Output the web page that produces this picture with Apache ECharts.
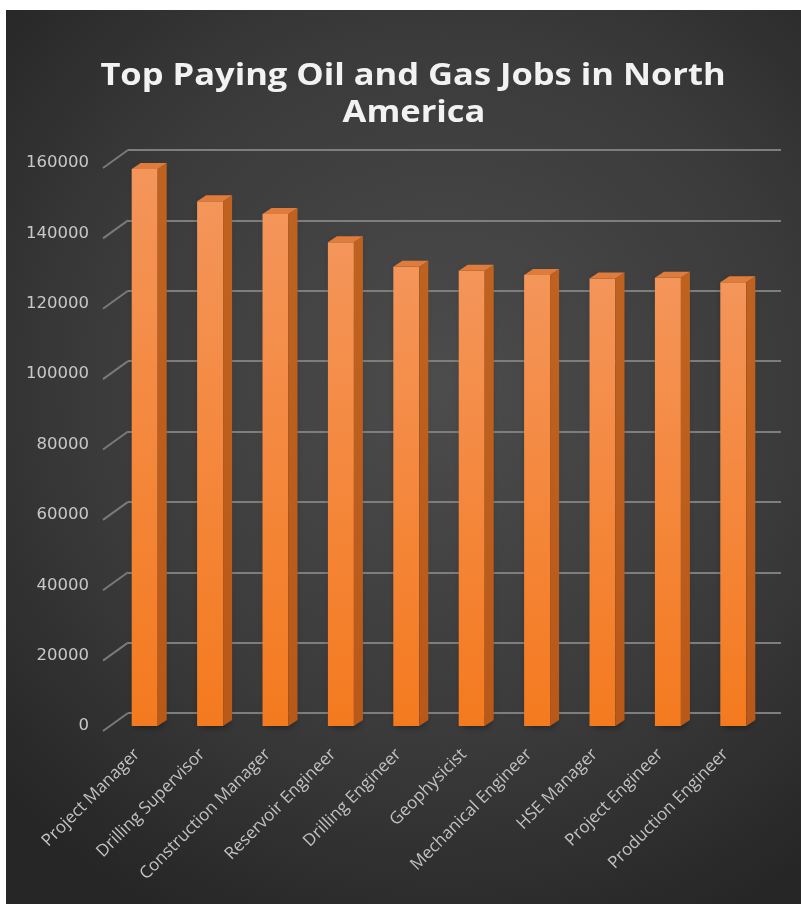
<!DOCTYPE html>
<html>
<head>
<meta charset="utf-8">
<script src="https://cdn.jsdelivr.net/npm/echarts@6/dist/echarts.min.js"></script>
<style>
html,body{margin:0;padding:0;background:#ffffff;}
#chart{width:801px;height:904px;}
</style>
</head>
<body>
<div id="chart"></div>
<script>
const categories = ['Project Manager','Drilling Supervisor','Construction Manager','Reservoir Engineer','Drilling Engineer','Geophysicist','Mechanical Engineer','HSE Manager','Project Engineer','Production Engineer'];
const salaries = [158300,149100,145500,137500,130500,129400,128200,127200,127400,126100];
const yTicks = [0,20000,40000,60000,80000,100000,120000,140000,160000];
const titleLines = ['Top Paying Oil and Gas Jobs in North','America'];

const chart = echarts.init(document.getElementById('chart'), null, {renderer:'canvas'});

function renderBar(params, api){
  const v = api.value(1);
  const top = api.coord([api.value(0), v]);
  const base = api.coord([api.value(0), 0]);
  const w = 26, dx = 9, dy = 6;
  const x0 = top[0]-w/2, x1 = top[0]+w/2;
  const yt = top[1], yb = base[1];
  return {
    type:'group',
    children:[
      {type:'rect', shape:{x:x0, y:yt, width:w, height:yb-yt},
        style:{fill:new echarts.graphic.LinearGradient(0,0,0,1,[{offset:0,color:'#f4955a'},{offset:1,color:'#f47a1f'}]),
          shadowColor:'rgba(0,0,0,0.55)', shadowBlur:8, shadowOffsetX:4, shadowOffsetY:0}},
      {type:'polygon', shape:{points:[[x1,yt],[x1+dx,yt-dy],[x1+dx,yb-dy],[x1,yb]]},
        style:{fill:new echarts.graphic.LinearGradient(0,0,0,1,[{offset:0,color:'#c0621f'},{offset:1,color:'#b8591a'}])}},
      {type:'polygon', shape:{points:[[x0,yt],[x0+dx,yt-dy],[x1+dx,yt-dy],[x1,yt]]},
        style:{fill:'#df7c3b'}}
    ]
  };
}

function renderDiag(params, api){
  const p = api.coord([0, api.value(1)]);
  const x = params.coordSys.x;
  return {type:'line', shape:{x1:x-9, y1:p[1]+5, x2:x+16, y2:p[1]-13},
    style:{stroke:'#7a7a7a', lineWidth:2}};
}

const titleFont = 'bold 30px "Open Sans"';
const option = {
  animation:false,
  backgroundColor:'#ffffff',
  graphic:[
    {type:'rect', left:6, top:10, z:-10, shape:{width:795, height:894},
      style:{fill:new echarts.graphic.RadialGradient(0.55,0.42,0.75,[{offset:0,color:'#4c4c4c'},{offset:0.6,color:'#3a3a3a'},{offset:1,color:'#262626'}])}},
    {type:'text', z:10, x:413, y:76, scaleX:1.15, style:{text:titleLines[0], x:0, y:0, textAlign:'center', textVerticalAlign:'middle',
      font:titleFont, fill:'#f2f2f2', shadowColor:'rgba(0,0,0,0.6)', shadowBlur:4}},
    {type:'text', z:10, x:414, y:113, scaleX:1.15, style:{text:titleLines[1], x:0, y:0, textAlign:'center', textVerticalAlign:'middle',
      font:titleFont, fill:'#f2f2f2', shadowColor:'rgba(0,0,0,0.6)', shadowBlur:4}}
  ],
  grid:[
    {left:128, right:20, top:150, bottom:191},
    {left:112, right:35, top:163, bottom:178}
  ],
  xAxis:[
    {gridIndex:0, type:'category', data:categories, show:false},
    {gridIndex:1, type:'category', data:categories,
      axisLine:{show:false}, axisTick:{show:false},
      axisLabel:{rotate:45, interval:0, margin:18, padding:[0,11,0,0], color:'#c2c2c2', fontSize:17, fontFamily:'Open Sans'}}
  ],
  yAxis:[
    {gridIndex:0, type:'value', min:0, max:160000, interval:20000,
      axisLabel:{show:false}, axisLine:{show:false}, axisTick:{show:false},
      splitLine:{lineStyle:{color:'#7e7e7e', width:2}}},
    {gridIndex:1, type:'value', min:0, max:160000, interval:20000,
      axisLine:{show:false}, axisTick:{show:false}, splitLine:{show:false},
      axisLabel:{margin:23, color:'#c8c8c8', fontSize:16.5, fontFamily:'DejaVu Sans', padding:[10,0,0,0],
        formatter:function(v){return String(v);}}}
  ],
  series:[
    {type:'custom', xAxisIndex:1, yAxisIndex:1, renderItem:renderDiag, clip:false,
      data:yTicks.map(function(v){return [0,v];})},
    {type:'custom', xAxisIndex:1, yAxisIndex:1, renderItem:renderBar, clip:false,
      data:salaries.map(function(v,i){return [i,v];})}
  ]
};
chart.setOption(option);
</script>
</body>
</html>
